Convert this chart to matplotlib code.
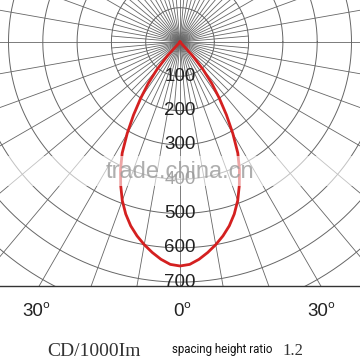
import matplotlib
matplotlib.use("Agg")
import matplotlib.pyplot as plt
import numpy as np

# candela curve (cd/1000lm), half-plane, symmetric
angles = [0, 2.5, 5, 7.5, 10, 12.5, 15, 17.5, 20, 22.5, 25, 27.5, 30,
          32.5, 35, 37.5, 40, 42.5, 45]
cd = [653, 649, 636, 619, 600, 579, 555, 526, 492, 452, 410, 365, 308,
      252, 199, 152, 104, 54, 0]
ring_labels = [100, 200, 300, 400, 500, 600, 700]
angle_labels = ["30", "0", "30"]

PX = 360.0
k = 100 / 34.3  # cd per pixel
cx, cy, bottom = 180, 42, 286

fig = plt.figure(figsize=(3.6, 3.6), dpi=100)
ax = fig.add_axes([0, 1 - bottom / PX, 1, bottom / PX])
ax.set_xlim(-cx * k, (PX - cx) * k)
ax.set_ylim((cy - bottom) * k, cy * k)
ax.set_xticks([])
ax.set_yticks([])
for s in ["top", "left", "right"]:
    ax.spines[s].set_visible(False)
ax.spines["bottom"].set_color("#333333")
ax.spines["bottom"].set_linewidth(1.0)

gc = "#666666"
t = np.linspace(0, 2 * np.pi, 400)
for r in range(100, 1100, 100):
    ax.plot(r * np.cos(t), r * np.sin(t), color=gc, lw=0.7, zorder=1)
for a in range(0, 360, 5):
    rr = 1200 if a % 10 == 0 else 200
    th = np.radians(a)
    ax.plot([0, rr * np.cos(th)], [0, rr * np.sin(th)], color=gc, lw=0.6, zorder=1)

# red curve, mirrored
a = np.radians(np.array(angles))
r = np.array(cd, dtype=float)
th = np.concatenate([-a[::-1], a[1:]])
rv = np.concatenate([r[::-1], r[1:]])
ax.plot(rv * np.sin(th), -rv * np.cos(th), color="#d42020", lw=2.0, zorder=3,
        solid_joinstyle="round")

for v in ring_labels:
    ax.text(0, -v, str(v), ha="center", va="center", fontsize=13.5,
            family="Liberation Sans", color="#222222", zorder=4)

# watermark band
ax.axhspan((cy - 186) * k, (cy - 156) * k, color="white", alpha=0.6, zorder=5, lw=0)
ax.text(0, (cy - 172) * k, "trade.china.cn", ha="center", va="center",
        fontsize=17, family="Liberation Sans", color="#9a9a9a", alpha=0.8, zorder=6)

# angle labels under the chart
for x, lab in zip([33, 179, 318], angle_labels):
    fig.text(x / PX, 1 - 311 / PX, lab, ha="center", va="center", fontsize=13.5,
             family="Liberation Sans", color="#222222")
    w = 11 if len(lab) == 2 else 6
    fig.text((x + w + 2) / PX, 1 - 305 / PX, "o", ha="center", va="center",
             fontsize=8, family="DejaVu Sans", color="#222222")

fig.text(47 / PX, 1 - 351 / PX, "CD/1000Im", ha="left", va="center", fontsize=14,
         family="Liberation Serif", color="#333333")
fig.text(172 / PX, 1 - 350 / PX, "spacing height ratio", ha="left", va="center",
         fontsize=8.3, family="Roboto", color="#111111")
fig.text(282 / PX, 1 - 351 / PX, "1.2", ha="left", va="center", fontsize=12,
         family="Liberation Serif", color="#333333")

fig.savefig("out.png", dpi=100)
